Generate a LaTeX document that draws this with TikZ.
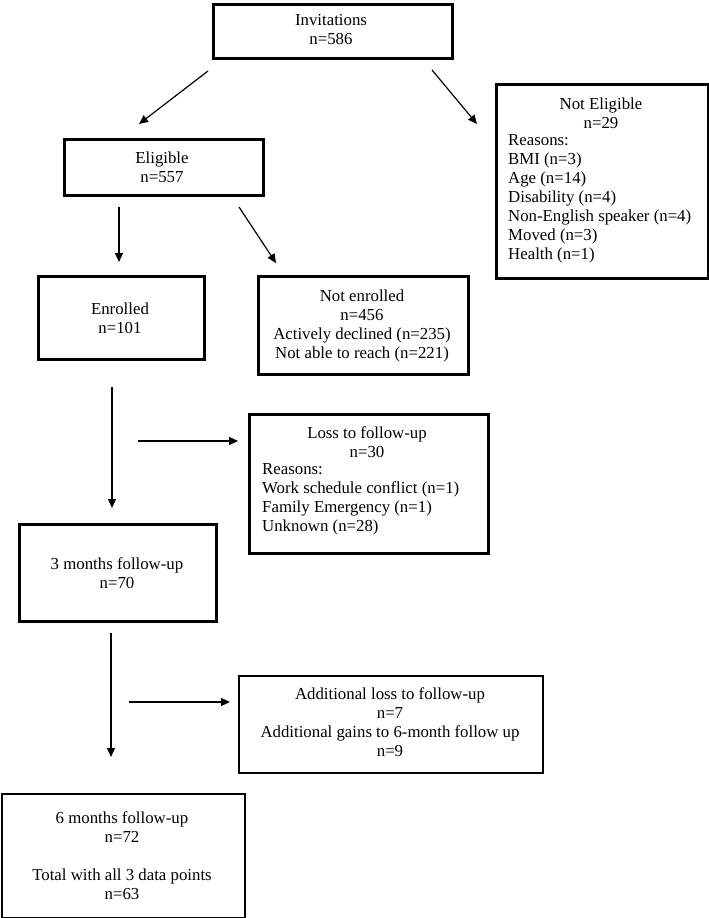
\documentclass[tikz,border=0pt]{standalone}
\usepackage{fontspec}
\setmainfont{Liberation Serif}
\usetikzlibrary{arrows.meta}
\begin{document}
\begin{tikzpicture}[x=1pt,y=-1pt,
  boxbase/.style={draw=black, rectangle, inner sep=0pt, anchor=north west},
  thickbox/.style={boxbase, line width=3pt},
  thinbox/.style={boxbase, line width=1.5pt},
  txt/.style={inner sep=0pt, font=\fontsize{16.8}{19}\selectfont, align=center},
  ltxt/.style={inner sep=0pt, font=\fontsize{16.8}{19}\selectfont, align=left, anchor=west},
  arr/.style={-{Triangle[length=9pt,width=8pt]}, line width=1.2pt}]
\useasboundingbox (0,0) rectangle (709,918);
\fill[white] (0,0) rectangle (709,918);

% boxes
\node[thickbox, minimum width=239pt, minimum height=54pt] (inv) at (212,3) {};
\node[thickbox, minimum width=212pt, minimum height=194pt] (nelig) at (495,83) {};
\node[thickbox, minimum width=199pt, minimum height=56pt] (elig) at (63,138) {};
\node[thickbox, minimum width=166pt, minimum height=83pt] (enr) at (37,275) {};
\node[thickbox, minimum width=210pt, minimum height=98pt] (nenr) at (257,275) {};
\node[thickbox, minimum width=239pt, minimum height=139pt] (loss) at (248,413) {};
\node[thickbox, minimum width=197pt, minimum height=97pt] (m3) at (18,523) {};
\node[thinbox, minimum width=304pt, minimum height=97pt] (add) at (238,675) {};
\node[thinbox, minimum width=243pt, minimum height=124pt] (m6) at (1,793) {};

% texts
\node[txt] (invt) at (331,30) {Invitations\\n=586};
\node[txt] (nelt) at (601,113) {Not Eligible\\n=29};
\node[ltxt] (nelr) at (508,199) {Reasons:\\BMI (n=3)\\Age (n=14)\\Disability (n=4)\\Non-English speaker (n=4)\\Moved (n=3)\\Health (n=1)};
\node[txt] (eligt) at (162,167) {Eligible\\n=557};
\node[txt] (enrt) at (120,318) {Enrolled\\n=101};
\node[txt] (nenrt) at (362,326) {Not enrolled\\n=456\\Actively declined (n=235)\\Not able to reach (n=221)};
\node[txt] (losst) at (367,442) {Loss to follow-up\\n=30};
\node[ltxt] (lossr) at (262,499) {Reasons:\\Work schedule conflict (n=1)\\Family Emergency (n=1)\\Unknown (n=28)};
\node[txt] (m3t) at (117,573) {3 months follow-up\\n=70};
\node[txt] (addt) at (390,722) {Additional loss to follow-up\\n=7\\Additional gains to 6-month follow up\\n=9};
\node[txt] (m6t) at (122,856) {6 months follow-up\\n=72\\[19pt]Total with all 3 data points\\n=63};

% arrow ends
\coordinate (a1s) at (208,71);  \coordinate (a1e) at (139,124);
\coordinate (a2s) at (432,70);  \coordinate (a2e) at (477,124);
\coordinate (a3s) at (119,207); \coordinate (a3e) at (119,262);
\coordinate (a4s) at (239,207); \coordinate (a4e) at (276,263);
\coordinate (a5s) at (112,387); \coordinate (a5e) at (112,508);
\coordinate (a6s) at (138,441); \coordinate (a6e) at (238,441);
\coordinate (a7s) at (111,633); \coordinate (a7e) at (111,757);
\coordinate (a8s) at (129,702); \coordinate (a8e) at (230,702);

\draw[arr] (a1s) -- (a1e);
\draw[arr] (a2s) -- (a2e);
\draw[arr] (a3s) -- (a3e);
\draw[arr] (a4s) -- (a4e);
\draw[arr] (a5s) -- (a5e);
\draw[arr] (a6s) -- (a6e);
\draw[arr] (a7s) -- (a7e);
\draw[arr] (a8s) -- (a8e);
\end{tikzpicture}
\end{document}
